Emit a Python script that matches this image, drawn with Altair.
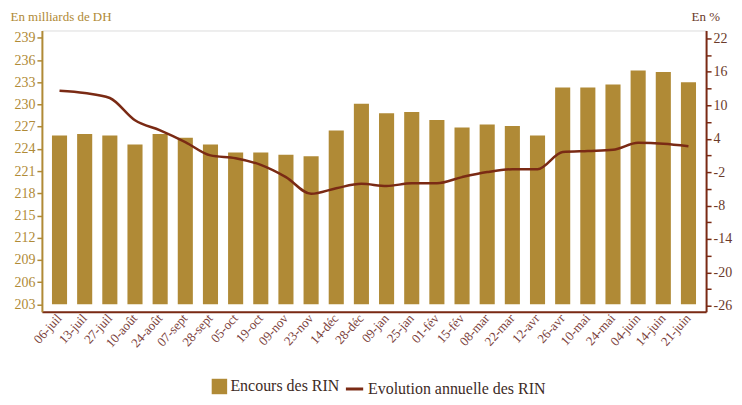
import altair as alt
import pandas as pd

dates = ["06-juil", "13-juil", "27-juil", "10-août", "24-août", "07-sept", "28-sept",
         "05-oct", "19-oct", "09-nov", "23-nov", "14-déc", "28-déc", "09-jan", "25-jan",
         "01-fév", "15-fév", "08-mar", "22-mar", "12-avr", "26-avr", "10-mai", "24-mai",
         "04-juin", "14-juin", "21-juin"]
encours = [225.8, 226.0, 225.8, 224.6, 226.0, 225.5, 224.6, 223.5, 223.5, 223.2, 223.0,
           226.5, 230.1, 228.8, 229.0, 227.9, 226.9, 227.3, 227.1, 225.8, 232.3, 232.3,
           232.7, 234.6, 234.4, 233.0]
evolution = [12.6, 12.2, 11.3, 7.3, 5.5, 3.4, 1.0, 0.5, -0.7, -2.9, -5.9, -4.9, -4.1,
             -4.5, -4.0, -4.0, -2.9, -2.0, -1.5, -1.5, 1.6, 1.8, 2.0, 3.25, 3.1, 2.65]
left_ticks = [203, 206, 209, 212, 215, 218, 221, 224, 227, 230, 233, 236, 239]
right_ticks = list(range(-26, 23, 3))

df = pd.DataFrame({"date": dates, "encours": encours, "evolution": evolution,
                   "s1": "Encours des RIN", "s2": "Evolution annuelle des RIN"})

GOLD = "#B08A36"
BROWN = "#7A2A14"
FONT = "'Liberation Serif', 'DejaVu Serif', serif"

x = alt.X("date:N", sort=None, title=None,
          scale=alt.Scale(paddingInner=0.4, paddingOuter=0.4),
          axis=alt.Axis(labelAngle=-48, labelFont=FONT, labelFontSize=13,
                        labelColor="#7A3E3A", ticks=False, domainColor=BROWN,
                        domainWidth=2, labelPadding=4))

bars = alt.Chart(df).mark_bar(color=GOLD).encode(
    x=x,
    y=alt.Y("encours:Q", scale=alt.Scale(domain=[202, 240], nice=False, zero=False),
            axis=alt.Axis(values=left_ticks, title="En milliards de DH", titleAngle=0,
                          titleAlign="left", titleBaseline="alphabetic", titleX=-32,
                          titleY=-10, titleFont=FONT, titleFontSize=13,
                          titleFontWeight="normal", titleColor=GOLD,
                          labelFont=FONT, labelFontSize=14, labelColor=GOLD,
                          tickColor=GOLD, tickSize=5, tickWidth=1.5,
                          domainColor=GOLD, domainWidth=2, grid=False, labelPadding=2)),
    y2=alt.datum(203),
    fill=alt.Fill("s1:N", scale=alt.Scale(range=[GOLD]),
                  legend=alt.Legend(orient="none", legendX=170, legendY=349, title=None,
                                    symbolType="square", symbolSize=240,
                                    symbolStrokeWidth=0, labelFont=FONT,
                                    labelFontSize=16, labelColor="#3d2b1f",
                                    labelOffset=3, labelLimit=300)),
)

line = alt.Chart(df).mark_line(strokeWidth=2.5, interpolate="monotone").encode(
    x=x,
    y=alt.Y("evolution:Q", scale=alt.Scale(domain=[-27.07, 23.43], nice=False, zero=False),
            axis=alt.Axis(orient="right", values=right_ticks,
                          labelExpr="(datum.value + 26) % 6 == 0 ? '' + datum.value : ''",
                          title="En %", titleAngle=0, titleAlign="left",
                          titleBaseline="alphabetic", titleX=-15, titleY=-10,
                          titleFont=FONT, titleFontSize=13, titleFontWeight="normal",
                          titleColor="#6B3A2A", labelFont=FONT, labelFontSize=14,
                          labelColor="#6B3A2A", tickColor=BROWN, tickSize=5,
                          tickWidth=1.5, domainColor=BROWN, domainWidth=2, grid=False,
                          labelPadding=2)),
    stroke=alt.Stroke("s2:N", scale=alt.Scale(range=[BROWN]),
                      legend=alt.Legend(orient="none", legendX=303, legendY=349, title=None,
                                        symbolType="stroke", symbolSize=300,
                                        symbolStrokeWidth=3, labelFont=FONT,
                                        labelFontSize=16, labelColor="#3d2b1f",
                                        labelOffset=3, labelLimit=300)),
)

chart = alt.layer(bars, line).resolve_scale(
    y="independent", fill="independent", stroke="independent"
).properties(
    width=666, height=282,
    autosize=alt.AutoSizeParams(type="none"),
    padding={"left": 34, "top": 22, "right": 28, "bottom": 87},
).configure_view(stroke=None).configure(background="white")

chart.save("out.html", embed_options={"renderer": "svg", "actions": False})
